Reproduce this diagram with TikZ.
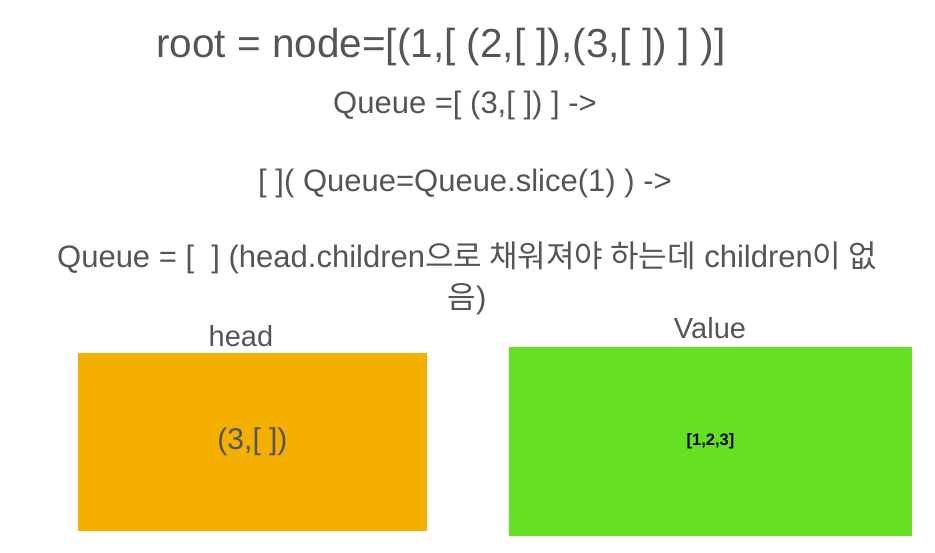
\documentclass[tikz,border=0pt]{standalone}
\usepackage{fontspec}
\setmainfont{Liberation Sans}
\newfontfamily\kr{Noto Sans CJK KR}
\usepackage{tikz}
\usetikzlibrary{positioning}

\definecolor{txtgray}{HTML}{555555}
\definecolor{headorange}{HTML}{F5AF00}
\definecolor{valgreen}{HTML}{66E022}

\begin{document}
\begin{tikzpicture}[x=1pt,y=-1pt,
    every node/.style={text=txtgray,inner sep=0pt},
    bigtxt/.style={font=\fontsize{40.5}{46}\selectfont},
    midtxt/.style={font=\fontsize{31}{41}\selectfont}]
        \useasboundingbox (0,0) rectangle (935,552);
        % code lines
        \node[bigtxt] (root) at (441,47) {root = node=[(1,[ (2,[ ]),(3,[ ]) ] )]};
        \node[midtxt] (queue1) at (465,105) {Queue =[ (3,[ ]) ] ->};
        \node[midtxt] (slice) at (465,183) {[ ]( Queue=Queue.slice(1) ) ->};
        \node[midtxt,align=center] (queue2) at (467,278)
            {Queue = [\ \ ] (head.children{\kr 으로 채워져야 하는데} children{\kr 이 없}\\{\kr 음})};
        % boxes
        \node[fill=headorange,minimum width=349,minimum height=178] (head) at (252.5,442) {};
        \node[fill=valgreen,minimum width=403,minimum height=189] (value) at (710.5,441.5) {};
        \node[font=\fontsize{30}{36}\selectfont] at (head) {(3,[ ])};
        \node[text=black,font=\bfseries\fontsize{16.5}{18}\selectfont] at (value) {[1,2,3]};
        \node[font=\fontsize{29}{36}\selectfont] (headlbl) at (241,336) {head};
        \node[font=\fontsize{29}{36}\selectfont] (vallbl) at (710,328) {Value};
\end{tikzpicture}
\end{document}
